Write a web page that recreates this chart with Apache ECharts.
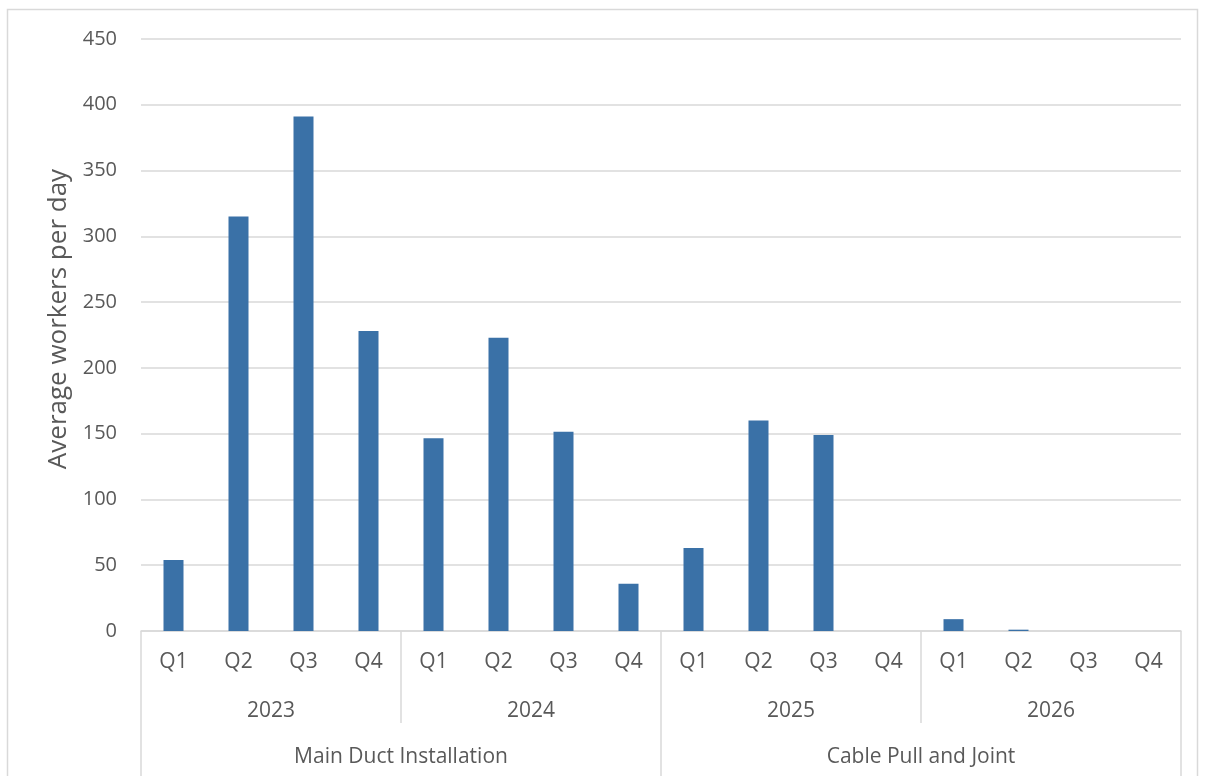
<!DOCTYPE html>
<html>
<head>
<meta charset="utf-8">
<script src="https://cdn.jsdelivr.net/npm/echarts@6/dist/echarts.min.js"></script>
<style>
  html, body { margin: 0; padding: 0; background: #fff; }
  #chart { width: 1205px; height: 776px; }
</style>
</head>
<body>
<div id="chart"></div>
<script>
  // Data
  const quarters = ['Q1', 'Q2', 'Q3', 'Q4', 'Q1', 'Q2', 'Q3', 'Q4', 'Q1', 'Q2', 'Q3', 'Q4', 'Q1', 'Q2', 'Q3', 'Q4'];
  const years = ['2023', '2024', '2025', '2026'];
  const phases = ['Main Duct Installation', 'Cable Pull and Joint'];
  const workers = [54, 315, 391, 228, 146.5, 223, 151.5, 36, 63, 160, 149, 0, 9, 1, 0, 0];
  const yTicks = { min: 0, max: 450, interval: 50 };

  const textColor = '#595959';
  const lineColor = '#d9d9d9';
  const fontFamily = '"Open Sans", "Liberation Sans", sans-serif';

  const chart = echarts.init(document.getElementById('chart'));

  chart.setOption({
    animation: false,
    backgroundColor: '#fff',
    textStyle: { fontFamily: fontFamily },
    graphic: [{
      type: 'rect',
      shape: { x: 7.5, y: 9.5, width: 1190, height: 800 },
      style: { fill: 'none', stroke: lineColor, lineWidth: 1.5 },
      silent: true
    }],
    grid: { left: 141, right: 24, top: 39, bottom: 145 },
    xAxis: [
      {
        type: 'category',
        data: quarters,
        axisLine: { show: true, lineStyle: { color: lineColor, width: 1.5 } },
        axisTick: { show: false },
        axisLabel: { color: textColor, fontSize: 21, margin: 21, interval: 0 }
      },
      {
        type: 'category',
        data: years,
        position: 'bottom',
        axisLine: { show: false },
        axisTick: { show: true, length: 92, lineStyle: { color: lineColor, width: 1.5 } },
        axisLabel: { color: textColor, fontSize: 21, margin: 70, interval: 0 }
      },
      {
        type: 'category',
        data: phases,
        position: 'bottom',
        axisLine: { show: false },
        axisTick: { show: true, length: 150, lineStyle: { color: lineColor, width: 1.5 } },
        axisLabel: { color: textColor, fontSize: 21, margin: 116, interval: 0 }
      }
    ],
    yAxis: {
      type: 'value',
      min: yTicks.min,
      max: yTicks.max,
      interval: yTicks.interval,
      name: 'Average workers per day',
      nameLocation: 'middle',
      nameGap: 68,
      nameRotate: 90,
      nameTextStyle: { color: textColor, fontSize: 26, padding: [0, 0, 0, 32] },
      axisLine: { show: false },
      axisTick: { show: false },
      axisLabel: { color: textColor, fontSize: 20, margin: 24 },
      splitLine: { lineStyle: { color: lineColor, width: 1.5 } }
    },
    series: [{
      type: 'bar',
      xAxisIndex: 0,
      data: workers,
      barWidth: 20,
      itemStyle: { color: '#3a71a7' }
    }]
  });
</script>
</body>
</html>
